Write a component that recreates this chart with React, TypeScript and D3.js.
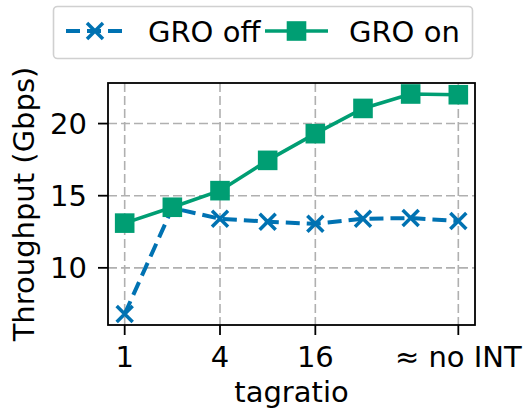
import React from "react"
import * as d3 from "d3"

const xIndex = [0, 1, 2, 3, 4, 5, 6, 7]
const groOff = [6.8, 14.15, 13.4, 13.2, 13.05, 13.4, 13.45, 13.25]
const groOn = [13.1, 14.2, 15.35, 17.45, 19.3, 21.05, 22.05, 22.0]
const xTickPos = [0, 2, 4, 7]
const xTickLabels = ["1", "4", "16", "≈ no INT"]
const yTicks = [10, 15, 20]

const W = 525
const H = 413
const m = { left: 108, right: 475, top: 83, bottom: 325 }
const blue = "#0072B2"
const green = "#009E73"
const font = "DejaVu Sans, sans-serif"
const fs = 29

export default function App() {
  const x = d3.scaleLinear().domain([-0.35, 7.35]).range([m.left, m.right])
  const lo = d3.min([...groOff, ...groOn])!
  const hi = d3.max([...groOff, ...groOn])!
  const pad = (hi - lo) * 0.05
  const y = d3.scaleLinear().domain([lo - pad, hi + pad]).range([m.bottom, m.top])

  const line = d3.line<number>().x((_, i) => x(xIndex[i])).y(d => y(d))

  const cross = (cx: number, cy: number, s: number, k: string) => (
    <path key={k} d={`M${cx - s},${cy - s}L${cx + s},${cy + s}M${cx - s},${cy + s}L${cx + s},${cy - s}`}
      stroke={blue} strokeWidth={3.5} fill="none" />
  )
  const square = (cx: number, cy: number, s: number, k: string) => (
    <rect key={k} x={cx - s} y={cy - s} width={2 * s} height={2 * s} fill={green} />
  )

  return (
    <svg width={W} height={H} style={{ position: "absolute", left: 0, top: 0 }} fontFamily={font}>
      <rect width={W} height={H} fill="#fff" />
      {/* grid */}
      <g stroke="#b0b0b0" strokeWidth={1.6} strokeDasharray="9,4">
        {xTickPos.map(t => <line key={"gx" + t} x1={x(t)} x2={x(t)} y1={m.top} y2={m.bottom} />)}
        {yTicks.map(t => <line key={"gy" + t} x1={m.left} x2={m.right} y1={y(t)} y2={y(t)} />)}
      </g>
      {/* lines */}
      <path d={line(groOff)!} fill="none" stroke={blue} strokeWidth={4} strokeDasharray="14,7" />
      {groOff.map((v, i) => cross(x(xIndex[i]), y(v), 8, "c" + i))}
      <path d={line(groOn)!} fill="none" stroke={green} strokeWidth={3.6} />
      {groOn.map((v, i) => square(x(xIndex[i]), y(v), 9.8, "s" + i))}
      {/* frame */}
      <rect x={m.left} y={m.top} width={m.right - m.left} height={m.bottom - m.top} fill="none" stroke="#000" strokeWidth={1.8} />
      {/* x axis */}
      {xTickPos.map((t, i) => (
        <g key={"xt" + t}>
          <line x1={x(t)} x2={x(t)} y1={m.bottom} y2={m.bottom + 10} stroke="#000" strokeWidth={1.8} />
          <text x={x(t)} y={m.bottom + 42} textAnchor="middle" fontSize={fs}>{xTickLabels[i]}</text>
        </g>
      ))}
      <text x={(m.left + m.right) / 2} y={m.bottom + 77} textAnchor="middle" fontSize={fs}>tagratio</text>
      {/* y axis */}
      {yTicks.map(t => (
        <g key={"yt" + t}>
          <line x1={m.left - 10} x2={m.left} y1={y(t)} y2={y(t)} stroke="#000" strokeWidth={1.8} />
          <text x={m.left - 21} y={y(t)} dy="0.36em" textAnchor="end" fontSize={fs}>{t}</text>
        </g>
      ))}
      <text transform={`translate(34,${(m.top + m.bottom) / 2}) rotate(-90)`} textAnchor="middle" fontSize={fs}>Throughput (Gbps)</text>
      {/* legend */}
      <rect x={53.5} y={6.5} width={419} height={52} rx={4} fill="#fff" stroke="#d0d0d0" strokeWidth={1.6} />
      <line x1={66} x2={124} y1={31} y2={31} stroke={blue} strokeWidth={4} strokeDasharray="14,7" />
      {cross(95, 31, 8, "lc")}
      <text x={148} y={42} fontSize={fs}>GRO off</text>
      <line x1={265} x2={328} y1={31} y2={31} stroke={green} strokeWidth={3.6} />
      {square(296.5, 31, 9.8, "ls")}
      <text x={349} y={42} fontSize={fs}>GRO on</text>
    </svg>
  )
}
